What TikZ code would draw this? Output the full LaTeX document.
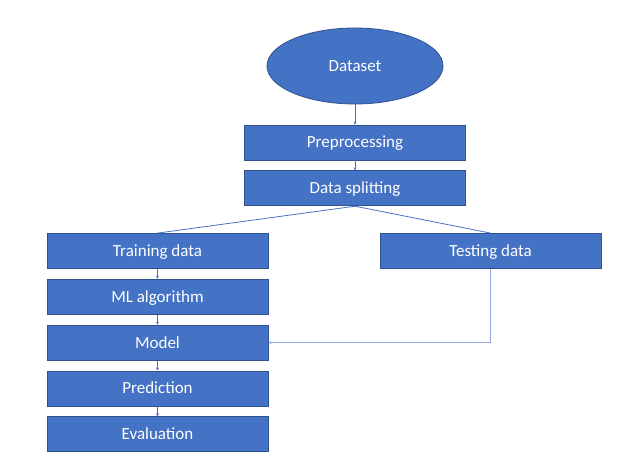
\documentclass[tikz,border=0pt]{standalone}
\usepackage{fontspec}
\setmainfont{Carlito}
\usetikzlibrary{positioning, arrows.meta, shapes.geometric}
\definecolor{boxblue}{HTML}{4472C4}
\definecolor{boxedge}{HTML}{2F528F}
\definecolor{lineblue}{HTML}{4472C4}
\definecolor{lightline}{HTML}{8FAADC}

\begin{document}
\begin{tikzpicture}[x=1pt, y=-1pt, node distance=10pt]
    \tikzstyle{block}=[rectangle, draw=boxedge, line width=0.8pt, fill=boxblue, text=white, minimum width=221pt, minimum height=35pt, inner sep=0, text height=11pt, text depth=0pt, font=\fontsize{17}{20}\selectfont]
    \tikzstyle{data}=[ellipse, draw=boxedge, line width=0.8pt, fill=boxblue, text=white, minimum width=176pt, minimum height=76pt, inner sep=0, text height=11pt, text depth=0pt, font=\fontsize{17}{20}\selectfont]
    \tikzstyle{link}=[draw=lineblue, line width=0.8pt, -{Stealth[length=3pt, width=3pt]}]
    \useasboundingbox (0,0) rectangle (623,465);

    \node[data] (dataset) at (355,66) {Dataset};
    \node[block] (prep) at (355,142.5) {Preprocessing};
    \node[block, below=of prep] (split) {Data splitting};
    \node[block] (train) at (157.5,251) {Training data};
    \node[block] (test) at (490.5,251) {Testing data};
    \node[block, below=of train] (algo) {ML algorithm};
    \node[block, below=of algo] (model) {Model};
    \node[block, below=of model] (pred) {Prediction};
    \node[block, below=of pred] (eval) {Evaluation};

    \path[link] (dataset) -- (prep);
    \path[link] (prep) -- (split);
    \draw[lineblue, line width=0.8pt] (split.south) -- (train.north);
    \draw[lineblue, line width=0.8pt] (split.south) -- (test.north);
    \path[link] (train) -- (algo);
    \path[link] (algo) -- (model);
    \path[link] (model) -- (pred);
    \path[link] (pred) -- (eval);
    \path[link, draw=lightline] (test.south) |- (model.east);
\end{tikzpicture}
\end{document}
